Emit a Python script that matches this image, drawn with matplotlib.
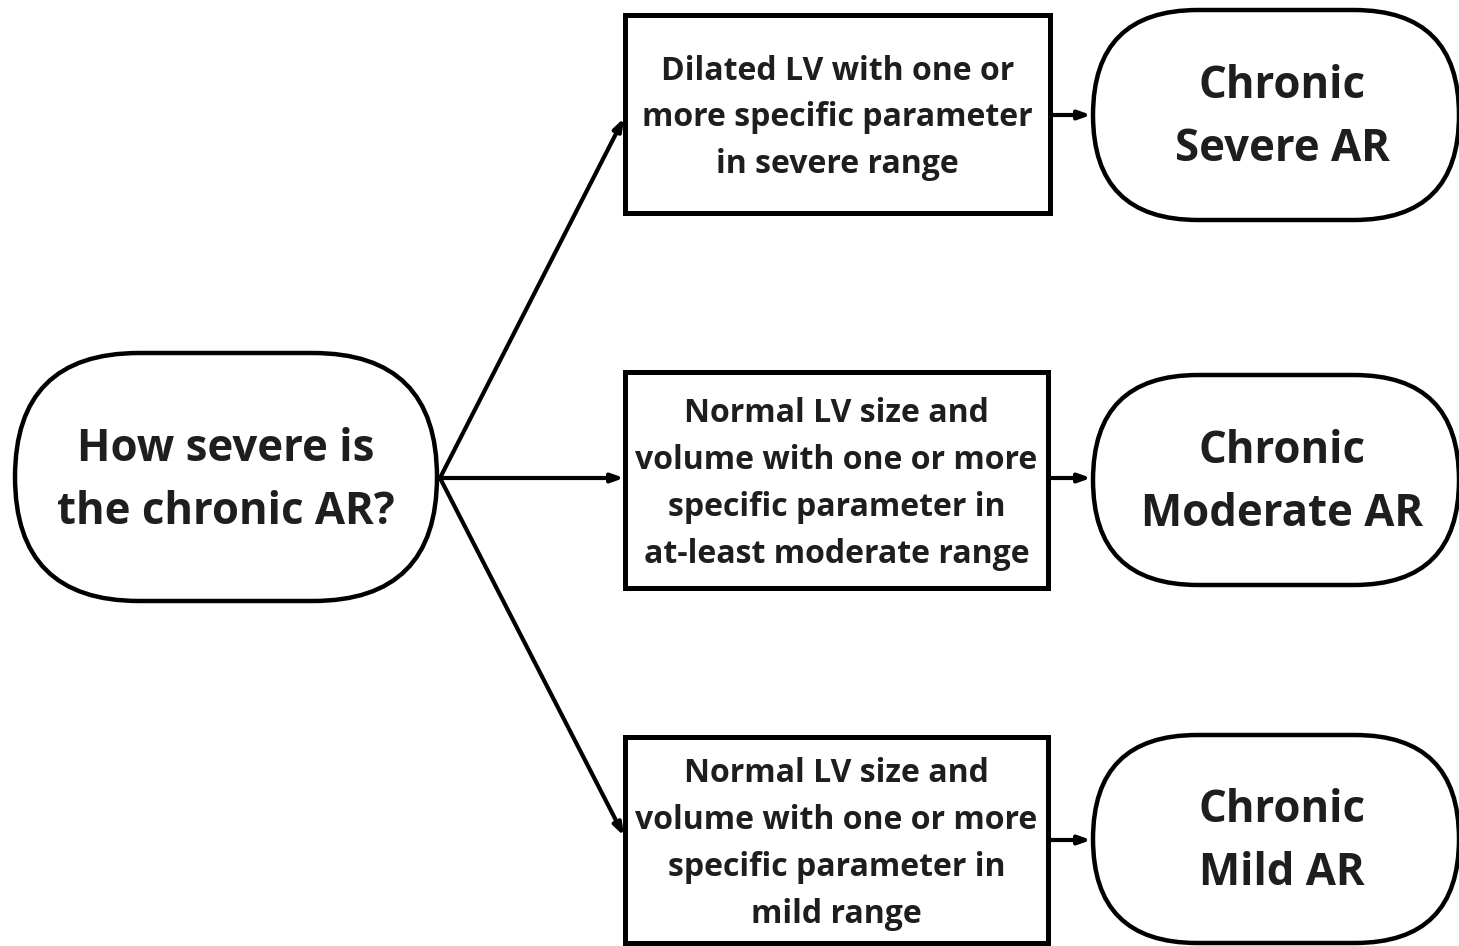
import matplotlib.pyplot as plt
from matplotlib.patches import FancyBboxPatch, Rectangle

# node texts
start_text = "How severe is\nthe chronic AR?"
box_texts = [
    "Dilated LV with one or\nmore specific parameter\nin severe range",
    "Normal LV size and\nvolume with one or more\nspecific parameter in\nat-least moderate range",
    "Normal LV size and\nvolume with one or more\nspecific parameter in\nmild range",
]
end_texts = ["Chronic\nSevere AR", "Chronic\nModerate AR", "Chronic\nMild AR"]

# layout in pixel coords (y down)
start_box = (15, 353, 422, 248)
boxes = [(625, 15, 425, 198), (625, 372, 423, 216), (625, 737, 423, 206)]
ends = [(1093, 10, 366, 210), (1093, 375, 366, 210), (1093, 735, 366, 208)]
arrow_y = [118, 478, 836]
short_y = [115, 478, 840]

FONT = "Open Sans"

fig = plt.figure(figsize=(14.59, 9.46), dpi=100)
ax = fig.add_axes([0, 0, 1, 1])
ax.set_xlim(0, 1459)
ax.set_ylim(946, 0)
ax.set_aspect("equal")
ax.axis("off")


def stadium(x, y, w, h, lw=3.2):
    r = h / 2
    p = FancyBboxPatch((x, y), w, h, boxstyle=f"round,pad=0,rounding_size={r}",
                       fc="white", ec="black", lw=lw, clip_on=False)
    ax.add_patch(p)


stadium(*start_box)
x, y, w, h = start_box
ax.text(x + w / 2, y + h / 2 + 4, start_text, ha="center", va="center",
        fontsize=31.5, family=FONT, weight="bold", color="#1e1e1e", linespacing=1.55)

for (bx, by, bw, bh), t in zip(boxes, box_texts):
    ax.add_patch(Rectangle((bx, by), bw, bh, fc="white", ec="black", lw=3.6))
    ax.text(bx + bw / 2, by + bh / 2 + 4, t, ha="center", va="center",
            fontsize=23, family=FONT, weight="bold", color="#1e1e1e", linespacing=1.55)

for (ex, ey, ew, eh), t in zip(ends, end_texts):
    stadium(ex, ey, ew, eh)
    ax.text(1282, ey + eh / 2 + 3, t, ha="center", va="center",
            fontsize=31.5, family=FONT, weight="bold", color="#1e1e1e", linespacing=1.55)

# branching arrows from start node
ox, oy = 440, 478
for ty in arrow_y:
    ax.annotate("", xy=(624, ty), xytext=(ox, oy),
                arrowprops=dict(arrowstyle="-|>,head_length=0.7,head_width=0.25",
                                color="black", lw=3, shrinkA=0, shrinkB=0))

for sy in short_y:
    ax.annotate("", xy=(1091, sy), xytext=(1050, sy),
                arrowprops=dict(arrowstyle="-|>,head_length=0.7,head_width=0.25",
                                color="black", lw=3, shrinkA=0, shrinkB=0))

fig.savefig("out.png", dpi=100, facecolor="white")
